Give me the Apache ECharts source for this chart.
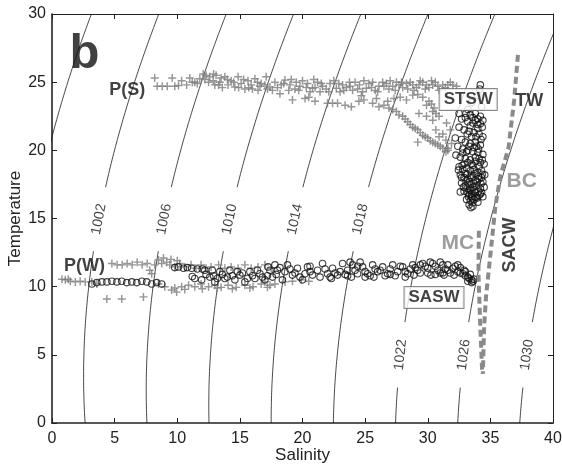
<!DOCTYPE html>
<html><head><meta charset="utf-8">
<script src="https://cdn.jsdelivr.net/npm/echarts@6/dist/echarts.min.js"></script>
<style>html,body{margin:0;padding:0;background:#fff}#c{width:562px;height:464px}</style>
</head><body><div id="c"></div>
<script>
// ---------- data ----------
const xTickValues = [0, 5, 10, 15, 20, 25, 30, 35, 40];
const yTickValues = [0, 5, 10, 15, 20, 25, 30];
const contourLevels = [998, 1002, 1006, 1010, 1014, 1018, 1022, 1026, 1030];
const upperLabelLevels = [1002, 1006, 1010, 1014, 1018];
const lowerLabelLevels = [1022, 1026, 1030];

// gray "+" : surface plume P(S)  [salinity, temperature]
const psPlus = [
[8.2,25.3],[8.4,24.7],[8.8,24.7],[9.2,24.7],[9.6,25.3],[9.8,24.7],[10.1,24.75],[10.35,25.1],[10.75,24.8],[11.0,25.3],[11.2,25.0],[11.4,25.0],[11.6,24.9],[11.8,25.25],
[12.07,25.6],[12.2,25.2],[12.3,25.5],[12.5,25.0],[12.6,25.4],[12.87,25.1],[12.9,25.6],[13.0,24.8],[13.1,25.5],[13.3,24.8],[13.4,25.0],[13.5,25.3],[13.6,24.6],[13.8,25.4],
[14.0,25.2],[14.06,24.8],[14.3,25.1],[14.5,25.0],[14.6,24.65],[14.86,25.4],[14.9,24.6],[15.1,24.9],[15.3,25.2],[15.4,24.5],[15.65,25.1],[15.7,24.6],[15.9,24.8],[16.0,24.5],
[16.2,25.25],[16.4,25.0],[16.45,24.4],[16.6,24.7],[16.7,24.9],[17.0,24.8],[17.1,25.4],[17.2,24.5],[17.4,24.65],[17.6,24.4],[17.8,25.0],[18.0,24.6],[18.2,24.15],[18.3,24.8],
[18.5,24.9],[18.6,25.15],[18.9,24.4],[19.0,24.8],[19.1,25.2],[19.2,23.7],[19.4,24.5],[19.5,25.0],[19.7,24.4],[19.8,24.7],[20.0,25.1],[20.2,23.8],[20.3,24.6],[20.4,24.9],
[20.5,23.9],[20.6,24.3],[20.8,24.55],[20.9,25.2],[21.0,24.6],[21.0,23.6],[21.2,25.0],[21.4,24.3],[21.5,24.9],[21.6,24.7],[21.9,24.5],[22.0,23.45],[22.1,24.3],[22.2,24.9],
[22.4,23.45],[22.5,25.1],[22.7,24.55],[22.8,23.45],[22.9,24.9],[23.0,24.3],[23.2,24.8],[23.3,24.4],[23.4,23.3],[23.5,24.6],[23.75,25.0],[23.8,24.7],[23.9,23.2],[24.0,24.4],
[24.2,25.0],[24.4,24.5],[24.5,23.6],[24.55,24.8],[24.7,24.0],[24.8,24.3],[24.9,25.1],[25.1,24.55],[25.3,24.9],[25.5,24.6],[25.6,25.0],[25.8,24.4],[25.9,23.8],[26.0,24.3],
[26.1,24.7],[26.4,25.0],[26.5,24.7],[26.7,24.9],[26.8,23.6],[26.9,24.5],[27.0,25.1],[27.2,24.7],[27.3,23.8],[27.4,24.4],[27.5,25.0],[27.7,24.8],[27.9,25.0],[28.0,24.6],
[28.3,24.9],[28.4,24.5],[28.6,25.0],[28.8,24.8],[28.9,24.4],[29.1,24.6],[29.3,24.8],[29.4,25.1],[29.6,25.0],[29.8,24.5],[29.9,24.8],[30.1,24.6],[30.3,25.1],[30.4,24.8],
[30.6,25.0],[30.8,24.7],[30.9,24.4],[31.2,24.8],[31.4,24.6],[31.6,24.8],[31.8,25.0],[32.0,24.8],[32.3,24.7],
[27.8,23.9],[28.3,23.7],[28.8,24.05],[29.2,24.1],[29.6,23.9],[30.1,23.6],[30.3,23.4],[30.5,23.1],[30.65,22.7],
[24.9,23.7],[25.6,23.45],[26.1,23.2],[26.5,23.3],[26.9,23.1],[27.2,23.0],[27.5,22.85],[27.7,22.6],[28.0,22.5],[28.2,22.3],[28.4,22.1],[28.6,21.9],
[28.8,21.7],[29.0,21.6],[29.2,21.5],[29.4,21.3],[29.6,21.1],[29.8,21.0],[30.0,20.9],[30.2,20.7],[30.4,20.6],[30.6,20.5],[30.8,20.4],[31.0,20.3],
[31.2,20.15],[31.45,19.9],[31.6,20.0],
[29.3,22.7],[29.9,22.5],[30.4,22.2],[30.9,22.5],[30.65,21.5],[31.2,21.2],[29.2,20.6],[30.9,21.0],[31.45,20.75],[31.6,20.15],[29.9,23.3],
[30.4,22.85],[31.5,22.0],[31.8,21.5],[31.9,20.5]
];

// gray "+" : winter plume P(W)
const pwPlus = [
[0.8,10.55],[1.06,10.5],[1.3,10.55],[1.46,10.4],[1.86,10.35],[2.25,10.4],[2.65,10.35],[3.18,10.35],[3.58,10.2],
[4.38,9.1],[5.57,9.1],[7.3,9.25],
[4.78,11.7],[5.2,11.6],[5.6,11.6],[6.0,11.7],[6.4,11.6],[6.8,11.8],[7.2,11.6],[7.6,11.7],[7.8,11.2],[7.96,10.95],[8.2,11.6],[8.5,11.95],
[8.76,11.7],[8.9,12.1],[9.16,11.8],[9.4,11.6],[9.5,12.0],[9.8,11.45],[10.0,11.9],[10.2,11.7],[10.6,11.45],[11.1,11.6],[11.5,11.35],[11.9,11.6],
[12.3,11.35],[12.7,11.45],[13.3,11.6],[13.8,11.35],[14.3,11.45],[14.86,11.35],[15.4,11.6],[15.9,11.35],[16.45,11.45],[17.0,11.6],[17.5,11.35],
[8.5,10.2],[9.0,10.0],[9.55,9.75],[9.8,9.9],[9.95,9.6],[10.35,10.0],[10.6,9.8],[10.9,10.1],[11.4,10.0],[11.9,10.2],[12.0,9.85],[12.5,10.0],
[13.0,10.1],[13.2,9.9],[13.5,9.95],[14.06,10.1],[14.4,9.85],[14.7,9.95],[15.4,10.1],[15.8,9.9],[16.05,10.0],[16.7,10.2],[17.0,10.35],[17.2,9.95],
[17.4,10.1],[17.8,10.2],[18.6,10.35],[19.2,10.4],[19.9,10.5],[20.5,10.4]
];

// black circles : STSW column
const stswCircles = [
[34.2,24.8],[34.15,24.5],[34.0,24.0],[33.5,23.5],[34.3,23.2],[33.2,23.0],[32.5,22.7],
[33.05,22.7],[33.4,22.6],[33.8,22.7],[34.2,22.5],[34.4,22.2],[32.7,22.3],[33.2,22.1],[33.6,22.0],[34.0,21.9],[34.35,21.7],[32.5,21.7],
[32.9,21.5],[33.3,21.4],[33.7,21.3],[34.1,21.2],[34.4,21.0],[32.2,20.9],[33.5,21.0],[34.0,21.6],[33.6,22.4],
[32.7,20.8],[33.0,20.6],[33.4,20.5],[33.8,20.6],[34.2,20.4],[32.4,20.3],[32.8,20.1],[33.2,20.0],[33.6,19.9],[34.0,19.85],[34.4,19.7],
[32.25,19.65],[32.6,19.5],[33.0,19.4],[33.4,19.3],[33.8,19.2],[34.2,19.1],[34.5,19.0],[33.1,19.9],[33.9,20.3],[34.1,19.4],[33.6,18.9],
[32.45,18.55],[32.5,18.8],[32.8,18.6],[33.1,18.7],[33.4,18.5],[33.7,18.6],[34.0,18.4],[34.3,18.5],[34.55,18.2],[32.9,19.0],[33.0,18.3],
[32.6,18.2],[32.9,18.0],[33.2,17.9],[33.5,18.0],[33.8,17.8],[34.1,17.9],[34.4,17.7],[34.3,18.0],
[32.7,17.6],[33.0,17.4],[33.3,17.5],[33.6,17.3],[33.9,17.4],[34.2,17.2],[34.5,17.3],[33.35,17.15],
[32.6,16.95],[32.9,17.0],[33.2,16.9],[33.5,16.8],[33.8,16.9],[34.1,16.7],[34.4,16.6],[33.5,16.6],[33.85,16.55],
[33.1,16.4],[33.4,16.3],[33.7,16.4],[34.0,16.2],[33.3,16.0],[33.6,15.9],[33.45,15.8],
[33.15,18.25],[33.45,18.15],[33.75,18.3],[34.05,18.1],[34.35,18.25],[33.05,17.75],[33.35,17.7],[33.65,17.6],[33.95,17.7],[34.25,17.55],
[33.15,17.2],[33.45,17.05],[33.75,17.1],[34.05,17.0],[34.3,16.9],[33.25,16.6],[33.55,16.5],[33.95,16.5],[33.2,19.1],[33.5,19.0],
[33.8,19.5],[34.1,18.8],[34.35,19.3],[32.8,19.8],[33.3,20.3],[33.7,20.2],[34.05,20.1],[33.15,21.2],[33.85,21.0],[34.25,20.8],
[33.4,21.8],[33.8,22.2],[34.2,21.95],[33.0,22.4],[34.0,22.3],[33.3,16.75],[33.6,16.15],[34.2,16.8],[32.75,18.9],[32.7,18.0],[32.85,17.3]
];

// black circles : SASW / winter plume band
const saswCircles = [
[3.18,10.2],[3.58,10.3],[3.98,10.35],[4.38,10.35],[4.78,10.4],[5.18,10.35],[5.57,10.4],[5.97,10.3],[6.37,10.35],[6.77,10.3],[7.17,10.4],
[7.56,10.35],[7.96,10.2],[8.36,10.3],[8.76,10.2],[9.8,11.4],
[10.1,11.45],[10.5,11.35],[10.8,11.4],[11.15,11.35],[11.2,10.75],[11.4,10.6],[11.6,11.3],[11.95,10.5],[12.0,11.3],[12.2,11.2],[12.3,10.9],[12.6,10.7],
[12.8,11.2],[12.9,10.8],[13.0,10.35],[13.2,10.6],[13.4,11.1],[13.6,10.9],[13.8,10.6],[14.0,10.7],[14.2,11.2],[14.4,10.8],[14.6,10.5],[14.8,11.1],
[15.0,10.85],[15.2,11.0],[15.4,10.35],[15.6,10.6],[15.8,11.1],[16.0,10.8],[16.2,10.6],[16.4,11.2],[16.6,10.95],[16.8,10.7],[17.0,10.5],[17.2,10.8],[17.4,11.2],
[17.25,11.45],[17.6,10.7],[17.8,11.6],[17.9,10.9],[18.0,11.2],[18.2,11.4],[18.4,10.5],[18.6,11.1],[18.8,11.6],[19.0,11.3],[19.2,10.85],[19.4,11.0],
[19.6,11.35],[19.8,10.7],[20.0,10.5],[20.2,10.95],[20.4,11.45],[20.6,11.1],[20.6,11.5],[20.8,10.85],[21.2,11.2],[21.4,10.7],[21.6,11.7],[21.8,11.3],
[22.0,10.95],[22.2,10.7],[22.3,10.6],[22.4,11.35],[22.6,11.0],[22.8,10.85],[23.0,11.1],[23.2,11.7],[23.4,10.9],[23.6,11.2],[23.6,10.8],[23.8,11.8],
[23.9,10.7],[24.0,11.6],[24.2,11.2],[24.4,10.95],[24.4,11.5],[24.6,11.8],[24.8,11.45],[25.0,11.1],[25.0,10.7],[25.2,10.95],[25.4,10.8],[25.6,11.6],
[25.7,10.7],[25.8,11.3],[26.0,11.1],[26.2,11.2],[26.4,11.45],[26.6,10.8],[26.8,10.95],[27.0,11.3],[27.0,10.9],[27.2,11.6],[27.4,10.8],[27.6,11.1],
[27.8,11.5],[28.0,11.45],[28.2,11.1],[28.2,10.7],[28.4,10.95],[28.6,11.3],[28.8,11.6],[28.9,10.85],[29.0,11.4],[29.2,11.2],[29.4,11.0],[29.4,11.6],
[29.6,11.7],[29.8,11.5],[30.0,11.35],[30.0,11.0],[30.2,11.8],[30.25,10.85],[30.4,11.7],[30.6,11.5],[30.6,10.9],[30.8,11.2],[31.0,11.0],[31.0,11.8],
[31.2,11.6],[31.2,11.0],[31.3,10.85],[31.4,11.3],[31.6,11.2],[31.6,11.6],[31.8,11.0],[32.0,11.35],[32.1,10.85],[32.2,11.5],[32.4,11.1],[32.4,11.6],
[32.6,11.0],[32.6,11.4],[32.8,10.95],[32.9,11.2],[33.0,10.8],[33.0,11.1],[33.2,10.7],[33.2,10.4],[33.3,10.6],[33.4,10.9],[33.5,10.5],[33.5,10.3],
[33.6,10.4],[33.7,10.55]
];

// dashed water-mass boundaries
const bcLine = [[37.2,27.0],[36.9,23.7],[36.45,20.2],[35.8,18.1],[35.4,15.9],[35.15,13.65],[34.9,11.45],[34.65,9.25],[34.5,7.05],[34.4,3.6]];
const mcLine = [[34.08,14.1],[34.05,11.0],[34.1,9.5],[34.2,7.0],[34.35,3.6]];

// ---------- seawater density (UNESCO EOS-80, surface pressure) ----------
function density(S, T) {
  const rw = 999.842594 + 6.793952e-2*T - 9.095290e-3*T*T + 1.001685e-4*T**3 - 1.120083e-6*T**4 + 6.536332e-9*T**5;
  const A = 8.24493e-1 - 4.0899e-3*T + 7.6438e-5*T*T - 8.2467e-7*T**3 + 5.3875e-9*T**4;
  const B = -5.72466e-3 + 1.0227e-4*T - 1.6546e-6*T*T;
  const C = 4.8314e-4;
  if (S < 0) return rw + A*S;
  return rw + A*S + B*Math.pow(S,1.5) + C*S*S;
}
function salinityAt(level, T) {
  let lo = -20, hi = 60;
  for (let i = 0; i < 60; i++) {
    const m = (lo + hi) / 2;
    if (density(m, T) < level) lo = m; else hi = m;
  }
  return (lo + hi) / 2;
}
function contourSegment(level, t0, t1) {
  const pts = [];
  const n = Math.max(2, Math.round((t1 - t0) / 0.25));
  for (let i = 0; i <= n; i++) {
    const T = t0 + (t1 - t0) * i / n;
    pts.push([salinityAt(level, T), T]);
  }
  return pts;
}

const FONT = 'Liberation Sans, Arial, Helvetica, sans-serif';
const UPPER_T = 14.95, LOWER_T = 5.0;

const series = [];
contourLevels.forEach(function (lv) {
  let ranges;
  if (upperLabelLevels.indexOf(lv) >= 0) ranges = [[0, 12.6], [17.3, 30]];
  else if (lowerLabelLevels.indexOf(lv) >= 0) ranges = [[0, 2.6], [7.4, 30]];
  else ranges = [[0, 30]];
  ranges.forEach(function (r) {
    series.push({
      type: 'line', data: contourSegment(lv, r[0], r[1]), showSymbol: false, symbol: 'none',
      lineStyle: { color: '#1a1a1a', width: 0.8 }, silent: true, clip: true, z: 1, animation: false
    });
  });
});

const plusPath = 'path://M4.1,0H5.9V4.1H10V5.9H5.9V10H4.1V5.9H0V4.1H4.1Z';
series.push({
  type: 'scatter', data: psPlus.concat(pwPlus), symbol: plusPath, symbolSize: 8,
  itemStyle: { color: '#7c7c7c' }, z: 2, animation: false, silent: true
});
series.push({
  type: 'scatter', data: saswCircles.concat(stswCircles), symbol: 'circle', symbolSize: 6.5,
  itemStyle: { color: 'rgba(255,255,255,0)', borderColor: '#111', borderWidth: 1.1 }, z: 3, animation: false, silent: true
});
[bcLine, mcLine].forEach(function (d) {
  series.push({
    type: 'line', data: d, showSymbol: false, symbol: 'none', smooth: false,
    lineStyle: { color: '#8a8a8a', width: 4, type: [7, 4] }, z: 4, animation: false, silent: true
  });
});

function txt(s, t, text, opt) {
  return { value: [s, t], label: Object.assign({ show: true, formatter: text, position: 'inside',
    fontFamily: FONT, fontWeight: 'bold', fontSize: 17, color: '#111' }, opt || {}) };
}
const boxStyle = { backgroundColor: '#fff', borderColor: '#6a6a6a', borderWidth: 1, padding: [3, 4, 1, 4] };
series.push({
  type: 'scatter', symbolSize: 0, z: 10, animation: false, silent: true,
  data: [
    txt(2.6, 27.0, 'b', { fontSize: 49 }),
    txt(6.0, 24.45, 'P(S)', { fontSize: 18 }),
    txt(2.6, 11.5, 'P(W)', { fontSize: 18 }),
    txt(38.1, 23.6, 'TW', { fontSize: 18 }),
    txt(37.5, 17.7, 'BC', { fontSize: 21, color: '#858585' }),
    txt(32.4, 13.2, 'MC', { fontSize: 21, color: '#858585' }),
    txt(36.55, 13.05, 'SACW', { fontSize: 18, rotate: 90 }),
    txt(33.23, 23.73, 'STSW', Object.assign({ fontSize: 17 }, boxStyle)),
    txt(30.5, 9.2, 'SASW', Object.assign({ fontSize: 17 }, boxStyle))
  ]
});

function axisCommon(show, w) {
  return {
    type: 'value', min: 0, max: 40, interval: 5,
    axisLine: { show: true, onZero: false, lineStyle: { color: '#222', width: w } },
    axisTick: { show: true, inside: true, length: 5, lineStyle: { color: '#222' } },
    axisLabel: { show: show, fontFamily: FONT, fontSize: 16, color: '#222' },
    splitLine: { show: false }
  };
}
const xa0 = Object.assign(axisCommon(true, 1.6), { position: 'bottom', name: 'Salinity', nameLocation: 'middle', nameGap: 24,
  nameMoveOverlap: false, nameTextStyle: { fontFamily: FONT, fontSize: 17, color: '#222' } });
xa0.axisLabel.margin = 8;
const xa1 = Object.assign(axisCommon(false, 1), { position: 'top' });
const ya0 = Object.assign(axisCommon(true, 1.6), { min: 0, max: 30, position: 'left', name: 'Temperature', nameLocation: 'middle', nameGap: 28,
  nameMoveOverlap: false, nameTextStyle: { fontFamily: FONT, fontSize: 17, color: '#222' } });
ya0.axisLabel.margin = 6;
const ya1 = Object.assign(axisCommon(false, 1), { min: 0, max: 30, position: 'right' });

const chart = echarts.init(document.getElementById('c'), null, { renderer: 'canvas' });
chart.setOption({
  animation: false,
  backgroundColor: '#fff',
  grid: { left: 52, right: 9, top: 14, bottom: 41, containLabel: false, outerBoundsMode: 'none' },
  xAxis: [xa0, xa1],
  yAxis: [ya0, ya1],
  series: series
});

// contour labels placed on the isopycnals, rotated along them
function labelItem(lv, T) {
  const s = salinityAt(lv, T);
  const p1 = chart.convertToPixel({ gridIndex: 0 }, [salinityAt(lv, T - 0.5), T - 0.5]);
  const p2 = chart.convertToPixel({ gridIndex: 0 }, [salinityAt(lv, T + 0.5), T + 0.5]);
  const ang = Math.atan2(p1[1] - p2[1], p2[0] - p1[0]) * 180 / Math.PI;
  return { value: [s, T], label: { show: true, formatter: String(lv), rotate: ang, position: 'inside',
    fontFamily: FONT, fontSize: 14, color: '#111' } };
}
const labelData = upperLabelLevels.map(function (lv) { return labelItem(lv, UPPER_T); })
  .concat(lowerLabelLevels.map(function (lv) { return labelItem(lv, LOWER_T); }));
series.push({ type: 'scatter', symbolSize: 0, z: 9, animation: false, silent: true, data: labelData });
chart.setOption({ series: series });
</script></body></html>
